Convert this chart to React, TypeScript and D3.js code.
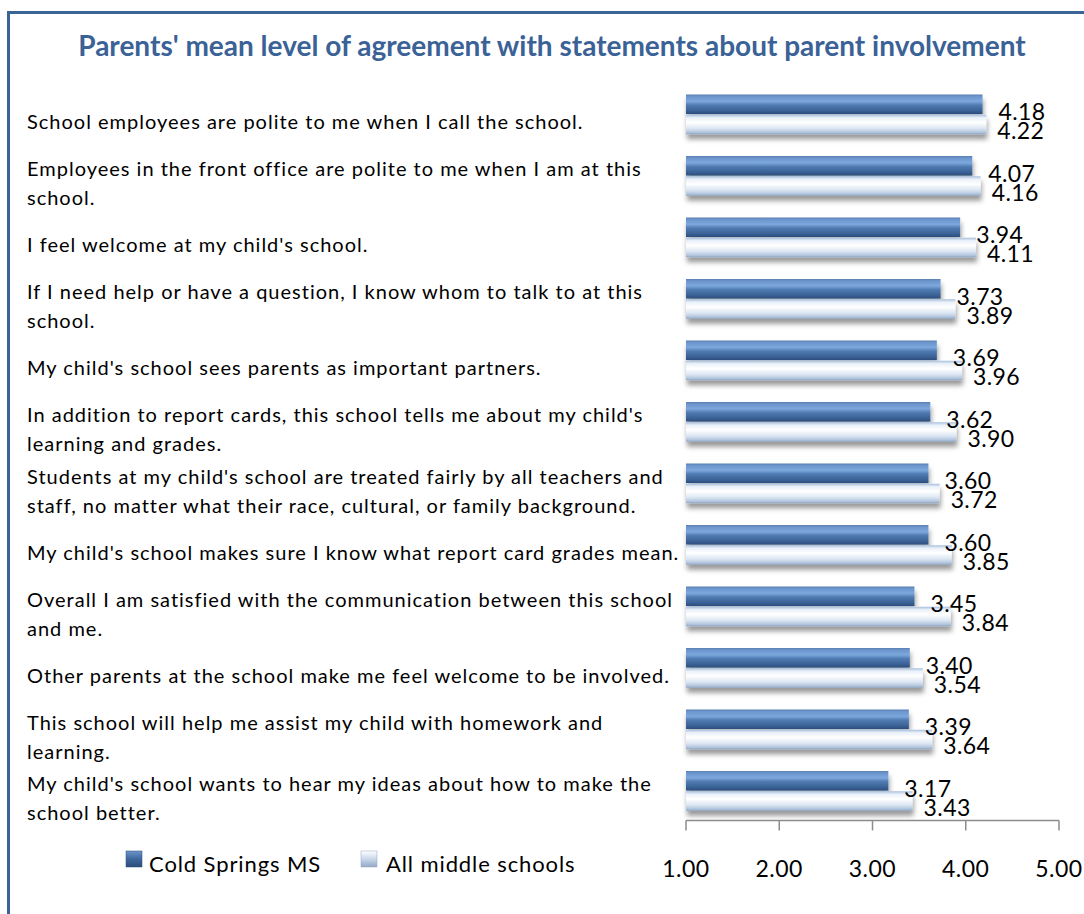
import React from "react";
import * as d3 from "d3";

const title = "Parents' mean level of agreement with statements about parent involvement";

const categoryLines: string[][] = [
  ["School employees are polite to me when I call the school."],
  ["Employees in the front office are polite to me when I am at this", "school."],
  ["I feel welcome at my child's school."],
  ["If I need help or have a question, I know whom to talk to at this", "school."],
  ["My child's school sees parents as important partners."],
  ["In addition to report cards, this school tells me about my child's", "learning and grades."],
  ["Students at my child's school are treated fairly by all teachers and", "staff, no matter what their race, cultural, or family background."],
  ["My child's school makes sure I know what report card grades mean."],
  ["Overall I am satisfied with the communication between this school", "and me."],
  ["Other parents at the school make me feel welcome to be involved."],
  ["This school will help me assist my child with homework and", "learning."],
  ["My child's school wants to hear my ideas about how to make the", "school better."],
];

const seriesNames = ["Cold Springs MS", "All middle schools"];
const coldSprings = [4.18, 4.07, 3.94, 3.73, 3.69, 3.62, 3.6, 3.6, 3.45, 3.4, 3.39, 3.17];
const allMiddle = [4.22, 4.16, 4.11, 3.89, 3.96, 3.9, 3.72, 3.85, 3.84, 3.54, 3.64, 3.43];
const xTicks = [1, 2, 3, 4, 5];

const FONT = "Lato, 'Open Sans', sans-serif";

export default function App() {
  const W = 1084;
  const H = 914;
  const x = d3.scaleLinear().domain([1, 5]).range([686, 1059]);
  const y = d3
    .scaleBand<number>()
    .domain(d3.range(categoryLines.length))
    .range([83.5, 821.5]);
  const bw = y.bandwidth();
  const barH = 19.5;
  const axisY = 820.5;
  const lineH = 29;
  const labelFs = 20;
  const fmt = d3.format(".2f");

  return (
    <svg
      width={W}
      height={H}
      style={{ position: "absolute", left: 0, top: 0, background: "#fff" }}
      fontFamily={FONT}
    >
      <defs>
        <linearGradient id="gDark" x1="0" y1="0" x2="0" y2="1">
          <stop offset="0%" stopColor="#5a7fb0" />
          <stop offset="10%" stopColor="#6b95cc" />
          <stop offset="35%" stopColor="#7ca8de" />
          <stop offset="55%" stopColor="#4f7ab1" />
          <stop offset="82%" stopColor="#3b6397" />
          <stop offset="100%" stopColor="#2c4d7b" />
        </linearGradient>
        <linearGradient id="gLight" x1="0" y1="0" x2="0" y2="1">
          <stop offset="0%" stopColor="#a7bedc" />
          <stop offset="15%" stopColor="#eaf1fa" />
          <stop offset="40%" stopColor="#ffffff" />
          <stop offset="70%" stopColor="#dce6f3" />
          <stop offset="90%" stopColor="#b3c6de" />
          <stop offset="100%" stopColor="#8ea4c1" />
        </linearGradient>
        <linearGradient id="gDarkLeg" x1="0" y1="0" x2="0" y2="1">
          <stop offset="0%" stopColor="#6b95cc" />
          <stop offset="50%" stopColor="#3f679c" />
          <stop offset="100%" stopColor="#2c4d7b" />
        </linearGradient>
        <linearGradient id="gLightLeg" x1="0" y1="0" x2="0" y2="1">
          <stop offset="0%" stopColor="#ffffff" />
          <stop offset="50%" stopColor="#c9d7ea" />
          <stop offset="100%" stopColor="#93a9c6" />
        </linearGradient>
        <filter id="shadow" x="-5%" y="-30%" width="110%" height="190%">
          <feDropShadow dx="1" dy="5" stdDeviation="2.5" floodColor="#000" floodOpacity="0.4" />
        </filter>
      </defs>

      {/* frame */}
      <rect x={8.5} y={12.5} width={1200} height={1000} fill="#fff" stroke="#3b6496" strokeWidth={3} />

      {/* title */}
      <text
        x={552}
        y={45}
        textAnchor="middle"
        dominantBaseline="central"
        fontSize={28}
        fontWeight="bold"
        fill="#3a6296"
      >
        {title}
      </text>

      {/* category labels */}
      {categoryLines.map((lines, i) => {
        const cy = (y(i) as number) + bw / 2 + 7;
        const top = cy - ((lines.length - 1) * lineH) / 2;
        return (
          <text key={"c" + i} fontSize={labelFs} letterSpacing={1} fill="#000">
            {lines.map((ln, j) => (
              <tspan key={j} x={27} y={top + j * lineH} dominantBaseline="central">
                {ln}
              </tspan>
            ))}
          </text>
        );
      })}

      {/* bars */}
      {categoryLines.map((_, i) => {
        const c = (y(i) as number) + bw / 2;
        return (
          <g key={"b" + i}>
            <g filter="url(#shadow)">
              <rect x={x(1)} y={c - barH - 0.25} width={x(coldSprings[i]) - x(1)} height={barH} fill="url(#gDark)" />
              <rect x={x(1)} y={c + 0.5} width={x(allMiddle[i]) - x(1)} height={barH} fill="url(#gLight)" />
            </g>
            <text x={x(coldSprings[i]) + 16} y={c - 3} dominantBaseline="central" fontSize={23} letterSpacing={0.4} fill="#000">
              {fmt(coldSprings[i])}
            </text>
            <text x={x(allMiddle[i]) + 11} y={c + 16} dominantBaseline="central" fontSize={23} letterSpacing={0.4} fill="#000">
              {fmt(allMiddle[i])}
            </text>
          </g>
        );
      })}

      {/* axis */}
      <line x1={x(1)} x2={x(5)} y1={axisY} y2={axisY} stroke="#8c8c8c" strokeWidth={1.5} />
      {xTicks.map((t) => (
        <g key={"t" + t}>
          <line x1={x(t)} x2={x(t)} y1={axisY} y2={axisY + 10} stroke="#8c8c8c" strokeWidth={1.5} />
          <text x={x(t)} y={868} textAnchor="middle" dominantBaseline="central" fontSize={23} letterSpacing={0.5} fill="#000">
            {fmt(t)}
          </text>
        </g>
      ))}

      {/* legend */}
      <rect x={126} y={851} width={16} height={16} fill="url(#gDarkLeg)" stroke="#2c4d7b" strokeWidth={0.5} />
      <text x={149} y={863} dominantBaseline="central" fontSize={22} letterSpacing={0.9} fill="#000">
        {seriesNames[0]}
      </text>
      <rect x={361} y={851} width={16} height={16} fill="url(#gLightLeg)" stroke="#93a9c6" strokeWidth={0.5} />
      <text x={386} y={863} dominantBaseline="central" fontSize={22} letterSpacing={0.9} fill="#000">
        {seriesNames[1]}
      </text>
    </svg>
  );
}
